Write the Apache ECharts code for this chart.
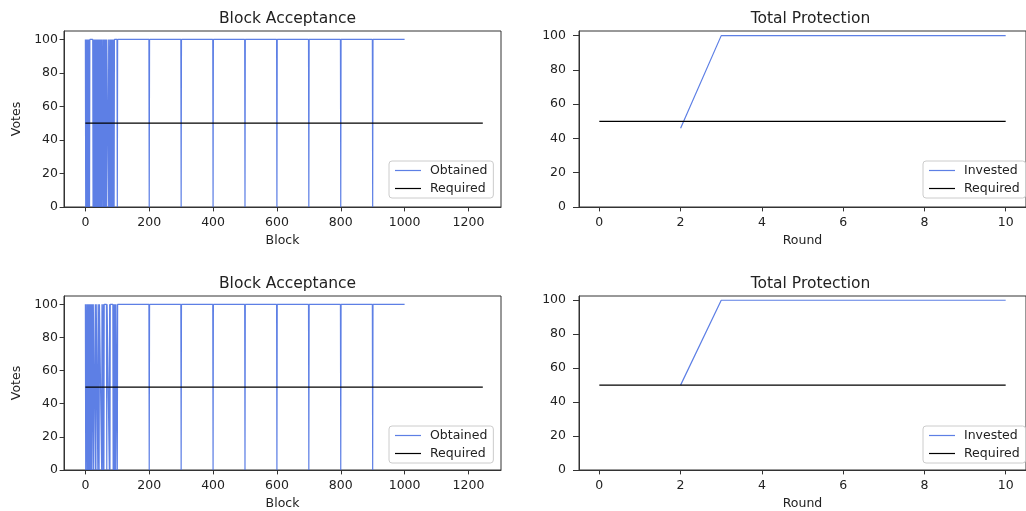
<!DOCTYPE html>
<html>
<head>
<meta charset="utf-8">
<script src="https://cdn.jsdelivr.net/npm/echarts@6/dist/echarts.min.js"></script>
<style>
  html, body { margin: 0; padding: 0; background: #fff; }
  #chart { width: 1026px; height: 511px; }
</style>
</head>
<body>
<div id="chart"></div>
<script>
// Tick labels
const blockTicks = [0, 200, 400, 600, 800, 1000, 1200];
const roundTicks = [0, 2, 4, 6, 8, 10];
const voteTicks = [0, 20, 40, 60, 80, 100];

// Block acceptance: votes obtained per block (full vote unless the block is listed as failed)
const lastBlock = 1000;
const fullVotes = 100;
const failedVotes = 0;
const failedBlocksTop = [1, 3, 5, 7, 9, 11, 13, 24, 27, 29, 31, 34, 37, 39, 41, 43, 45, 47, 49, 51, 55,
  58, 60, 62, 64, 66, 72, 76, 78, 80, 82, 84, 86, 88, 90, 100, 200, 300, 400, 500, 600, 700, 800, 900];
const failedBlocksBottom = [1, 2, 3, 5, 6, 8, 9, 11, 12, 14, 15, 17, 18, 20, 21, 25, 31, 33, 39, 43, 51,
  55, 58, 67, 75, 77, 87, 89, 91, 93, 95, 100, 200, 300, 400, 500, 600, 700, 800, 900];
const requiredBlocks = [0, 1245];
const requiredVotes = [50, 50];

// Total protection per round
const rounds = [0, 1, 2, 3, 4, 5, 6, 7, 8, 9, 10];
const investedTop = [null, null, 46, 100, 100, 100, 100, 100, 100, 100, 100];
const investedBottom = [null, null, 50, 100, 100, 100, 100, 100, 100, 100, 100];
const requiredProtection = [50, 50, 50, 50, 50, 50, 50, 50, 50, 50, 50];

const FONT = 'DejaVu Sans';
const TEXT = '#222';
const BLUE = 'rgba(65,105,225,0.85)';
const LW = 1.2;

// Per-block vote line. Runs of identical blocks are collapsed to their end points so the
// drawn polyline keeps every change of value (tiny horizontal steps would otherwise be dropped).
function obtainedSeries(failed) {
  const value = b => (failed.includes(b) ? failedVotes : fullVotes);
  const pts = [];
  for (let b = 0; b <= lastBlock; b++) {
    const v = value(b);
    const keep = b === 0 || b === lastBlock || v !== value(b - 1) || v !== value(b + 1);
    if (keep) pts.push([b, v]);
  }
  return pts;
}
function pairs(xs, ys) {
  return xs.map((x, i) => [x, ys[i]]).filter(p => p[1] !== null);
}

function axis(gridIndex, min, max, ticks, opts) {
  opts = opts || {};
  return {
    type: 'value', gridIndex, min, max,
    name: opts.name || '', nameLocation: 'middle', nameGap: opts.nameGap || 0,
    nameTextStyle: { fontFamily: FONT, fontSize: 12.5, color: TEXT },
    axisLine: { show: true, onZero: false, lineStyle: { color: '#333', width: 1 } },
    axisTick: { show: true, length: opts.tick || 4.4, customValues: ticks, lineStyle: { color: '#333', width: 1 } },
    axisLabel: { customValues: ticks, fontFamily: FONT, fontSize: 12.5, color: TEXT,
      margin: opts.margin || 9, formatter: v => String(v) },
    splitLine: { show: false }
  };
}

const grids = [
  { left: 64, top: 31, width: 437, height: 176 },
  { left: 579, top: 31, width: 453, height: 176 },
  { left: 64, top: 296, width: 437, height: 176 },
  { left: 579, top: 296, width: 453, height: 176 }
].map(g => Object.assign({ show: true, borderColor: '#333', borderWidth: 1, backgroundColor: '#fff' }, g));

const xAxes = [
  axis(0, -67, 1302, blockTicks, { name: 'Block', nameGap: 27 }),
  axis(1, -0.5, 10.5, roundTicks, { name: 'Round', nameGap: 27 }),
  axis(2, -67, 1302, blockTicks, { name: 'Block', nameGap: 27 }),
  axis(3, -0.5, 10.5, roundTicks, { name: 'Round', nameGap: 27 })
];
const yAxes = [
  axis(0, 0, 105, voteTicks, { name: 'Votes', nameGap: 41, margin: 6 }),
  axis(1, 0, 102.7, voteTicks, { margin: 13, tick: 6 }),
  axis(2, 0, 105, voteTicks, { name: 'Votes', nameGap: 41, margin: 6 }),
  axis(3, 0, 102.5, voteTicks, { margin: 13, tick: 6 })
];

function line(name, idx, data, color) {
  return {
    type: 'line', name, xAxisIndex: idx, yAxisIndex: idx, data,
    symbol: 'none', sampling: null, silent: true,
    lineStyle: { color, width: LW, join: 'bevel' }, itemStyle: { color }
  };
}

const series = [
  line('Obtained', 0, obtainedSeries(failedBlocksTop), BLUE),
  line('Required', 0, pairs(requiredBlocks, requiredVotes), '#000'),
  line('Invested', 1, pairs(rounds, investedTop), BLUE),
  line('Required', 1, pairs(rounds, requiredProtection), '#000'),
  line('Obtained', 2, obtainedSeries(failedBlocksBottom), BLUE),
  line('Required', 2, pairs(requiredBlocks, requiredVotes), '#000'),
  line('Invested', 3, pairs(rounds, investedBottom), BLUE),
  line('Required', 3, pairs(rounds, requiredProtection), '#000')
];

function title(text, x, y) {
  return { text, left: x, top: y, textAlign: 'center',
    textStyle: { fontFamily: FONT, fontSize: 15.5, fontWeight: 'normal', color: TEXT } };
}
function legend(names, x, y) {
  return {
    data: names.map(n => ({ name: n, icon: 'path://M0,0H26V1.2H0Z' })),
    left: x, top: y, orient: 'vertical',
    itemWidth: 26, itemHeight: 14, itemGap: 5, padding: [3, 6, 3, 6],
    backgroundColor: 'rgba(255,255,255,0.8)', borderColor: '#ccc', borderWidth: 1, borderRadius: 3,
    textStyle: { fontFamily: FONT, fontSize: 12.5, color: TEXT, padding: [0, 0, 0, 4] },
    selectedMode: false
  };
}

const chart = echarts.init(document.getElementById('chart'), null, { renderer: 'canvas' });
chart.setOption({
  animation: false,
  backgroundColor: '#fff',
  title: [
    title('Block Acceptance', 282.5, 6),
    title('Total Protection', 805.5, 6),
    title('Block Acceptance', 282.5, 271),
    title('Total Protection', 805.5, 271)
  ],
  legend: [
    legend(['Obtained', 'Required'], 389, 161),
    legend(['Invested', 'Required'], 923, 161),
    legend(['Obtained', 'Required'], 389, 426),
    legend(['Invested', 'Required'], 923, 426)
  ],
  grid: grids,
  xAxis: xAxes,
  yAxis: yAxes,
  series
});
</script>
</body>
</html>
